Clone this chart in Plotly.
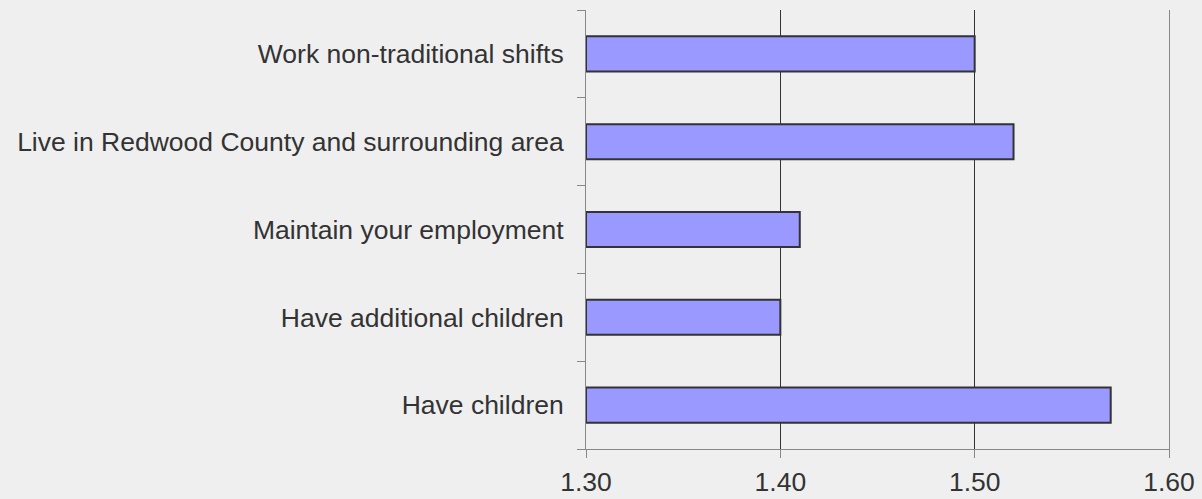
import plotly.graph_objects as go

categories = ["Have children", "Have additional children", "Maintain your employment",
              "Live in Redwood County and surrounding area", "Work non-traditional shifts"]
values = [1.57, 1.40, 1.41, 1.52, 1.50]
axis_base = 1.30
tick_vals = [1.30, 1.40, 1.50, 1.60]
tick_text = ["1.30", "1.40", "1.50", "1.60"]

fig = go.Figure(go.Bar(
    x=[v - axis_base for v in values], y=categories, orientation="h", base=axis_base,
    marker=dict(color="#9999ff", line=dict(color="#333333", width=2)),
    hovertemplate="%{y}: %{customdata:.2f}<extra></extra>", customdata=values,
))

fig.update_layout(
    width=1202, height=499,
    margin=dict(l=586, r=33, t=10, b=50),
    paper_bgcolor="#efefef", plot_bgcolor="#efefef",
    bargap=0.6, showlegend=False,
    font=dict(family="Liberation Sans, Arial, sans-serif", size=26.5, color="#333333"),
)
fig.update_xaxes(range=[1.30, 1.60], tickvals=tick_vals, ticktext=tick_text,
                 showgrid=True, gridcolor="#333333", gridwidth=1,
                 showline=True, linecolor="#888888", linewidth=1,
                 ticks="outside", ticklen=8, tickcolor="#888888", zeroline=False,
                 ticklabelstandoff=1, automargin=False)
fig.update_yaxes(showgrid=False, showline=True, linecolor="#888888", linewidth=1,
                 mirror=True, ticks="outside", ticklen=8, tickcolor="#888888",
                 tickson="boundaries", ticklabelstandoff=16, automargin=False)
fig.write_html("out.html", config={"displayModeBar": False},
               post_script="document.body.style.margin='0';document.body.style.background='#efefef';")
